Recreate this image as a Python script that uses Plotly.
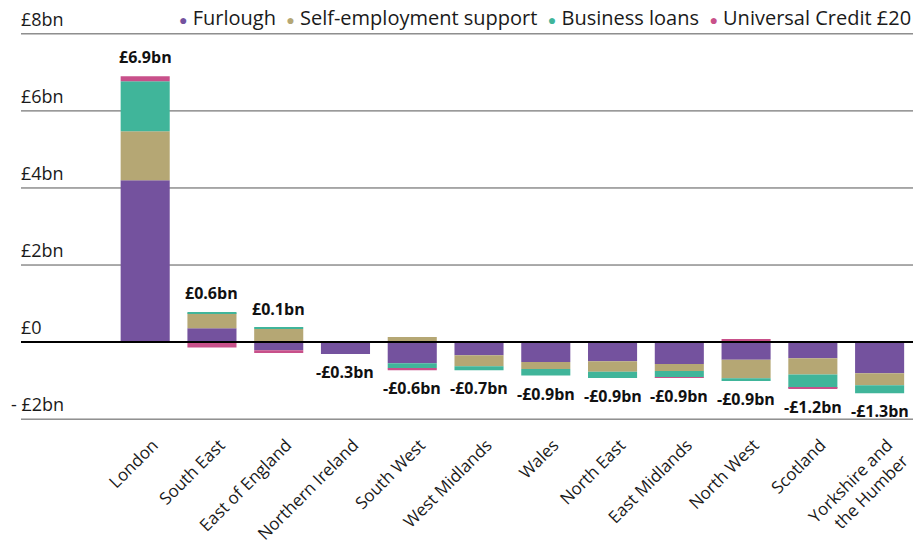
import plotly.graph_objects as go

# Net change by region, £bn, split by support scheme
regions = [
    "London", "South East", "East of England", "Northern Ireland", "South West",
    "West Midlands", "Wales", "North East", "East Midlands", "North West",
    "Scotland", "Yorkshire and<br>the Humber",
]
furlough = [4.20, 0.36, -0.21, -0.31, -0.55, -0.34, -0.52, -0.50, -0.57, -0.46, -0.42, -0.81]
self_employment = [1.27, 0.39, 0.34, 0.00, 0.13, -0.29, -0.18, -0.27, -0.18, -0.48, -0.42, -0.31]
business_loans = [1.30, 0.03, 0.03, 0.00, -0.13, -0.10, -0.17, -0.16, -0.16, -0.07, -0.35, -0.21]
universal_credit = [0.13, -0.14, -0.07, 0.00, -0.05, 0.00, 0.00, 0.00, -0.02, 0.08, -0.02, 0.00]

series_names = ["Furlough", "Self-employment support", "Business loans", "Universal Credit £20"]
series_values = [furlough, self_employment, business_loans, universal_credit]
series_colors = ["#74529e", "#b5a774", "#40b59a", "#c8508a"]

y_ticks = [-2, 0, 2, 4, 6, 8]

FONT = "Open Sans"
TEXT = "#1a1a1a"

fig = go.Figure()
for name, vals, col in zip(series_names, series_values, series_colors):
    fig.add_trace(go.Bar(
        x=regions, y=vals, name=name, marker=dict(color=col, line=dict(width=0)),
        showlegend=False, hoverinfo="skip",
    ))

# Gridlines running across the full width, with labels sitting on top of them
for v in y_ticks:
    fig.add_shape(type="line", xref="paper", x0=0, x1=1, yref="y", y0=v, y1=v,
                  line=dict(color="#000000" if v == 0 else "#555555", width=2 if v == 0 else 1),
                  layer="above" if v == 0 else "below")
    if v == 0:
        label = "£0"
    elif v < 0:
        label = f"- £{abs(v)}bn"
    else:
        label = f"£{v}bn"
    fig.add_annotation(xref="paper", x=0, yref="y", y=v, text=label, showarrow=False,
                       xanchor="left", yanchor="bottom", xshift=-12 if v < 0 else -2, yshift=1,
                       font=dict(family=FONT, size=18, color=TEXT))

# Net total labels above (positive) or below (negative) each stack
for i, region in enumerate(regions):
    parts = [s[i] for s in series_values]
    total = sum(parts)
    pos = sum(p for p in parts if p > 0)
    neg = sum(p for p in parts if p < 0)
    txt = ("-" if round(total, 1) < 0 else "") + f"£{abs(total):.1f}bn"
    if total >= 0:
        fig.add_annotation(x=region, y=pos, text=f"<b>{txt}</b>", showarrow=False,
                           yanchor="bottom", yshift=6, font=dict(family=FONT, size=16, color="#111111"))
    else:
        fig.add_annotation(x=region, y=neg, text=f"<b>{txt}</b>", showarrow=False,
                           yanchor="top", yshift=-5, font=dict(family=FONT, size=16, color="#111111"))

# Legend line with coloured dots
legend_text = "  ".join(
    f"<span style='color:{c};font-size:14px'>●</span> {n}" for n, c in zip(series_names, series_colors)
)
fig.add_annotation(xref="paper", yref="paper", x=1, y=1, yshift=13, text=legend_text,
                   showarrow=False, xanchor="right", yanchor="middle",
                   font=dict(family=FONT, size=20, color=TEXT))

fig.update_layout(
    width=913, height=551,
    margin=dict(l=21, r=0, t=30, b=128),
    barmode="relative", bargap=0.265,
    plot_bgcolor="white", paper_bgcolor="white",
    font=dict(family=FONT, color=TEXT),
    xaxis=dict(type="category", range=[-1.86, 11.5], tickangle=-45, showgrid=False,
               zeroline=False, showline=False, ticks="", fixedrange=True,
               ticklabelshift=8, ticklabelstandoff=8,
               tickfont=dict(family=FONT, size=17, color=TEXT)),
    yaxis=dict(range=[-2.1, 8.1], showgrid=False, zeroline=False, showticklabels=False,
               showline=False, fixedrange=True),
)

fig.write_html("out.html")
